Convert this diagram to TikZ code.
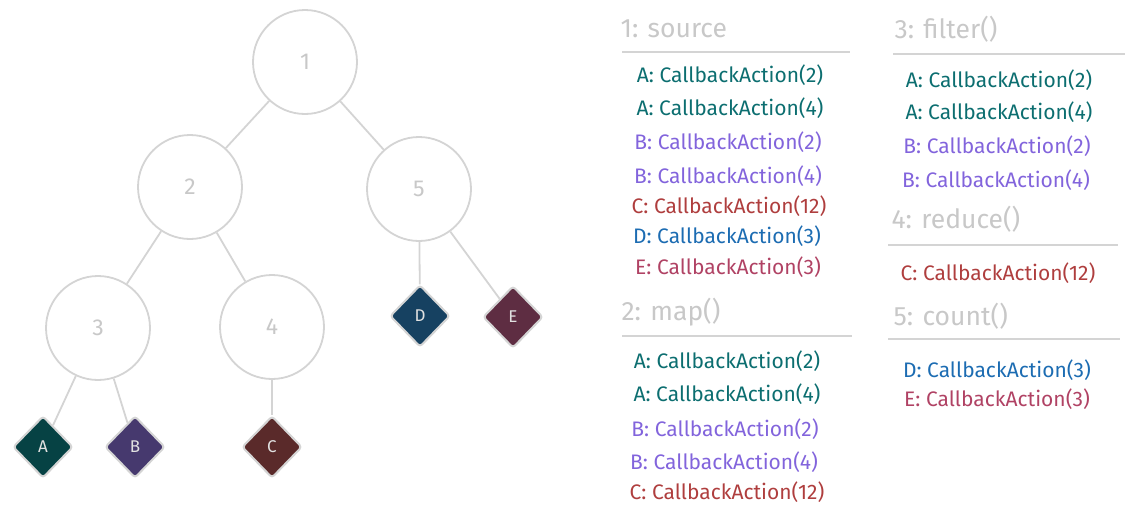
\documentclass[tikz,border=0pt]{standalone}
\usepackage{fontspec}
\setmainfont{Fira Sans}
\usepackage{tikz}
\usetikzlibrary{shapes.geometric}

\definecolor{edgegrey}{RGB}{212,212,212}
\definecolor{labelgrey}{RGB}{200,200,200}
\definecolor{leaftext}{RGB}{225,225,225}
\definecolor{fillA}{RGB}{6,66,68}
\definecolor{fillB}{RGB}{70,57,110}
\definecolor{fillC}{RGB}{90,42,42}
\definecolor{fillD}{RGB}{22,65,97}
\definecolor{fillE}{RGB}{94,45,66}
\definecolor{textA}{RGB}{12,110,112}
\definecolor{textB}{RGB}{130,100,220}
\definecolor{textC}{RGB}{175,62,62}
\definecolor{textD}{RGB}{28,108,178}
\definecolor{textE}{RGB}{176,66,100}

\begin{document}
\begin{tikzpicture}[x=1pt,y=-1pt,
	treenode/.style={circle, draw=edgegrey, fill=white, line width=1.8pt, minimum size=104pt, inner sep=0pt, text=labelgrey, font=\fontsize{23}{25}\selectfont},
	leaf/.style={diamond, draw=edgegrey, line width=2pt, rounded corners=3pt, minimum width=60pt, minimum height=62pt, inner sep=0pt, text=leaftext, font=\fontsize{17}{19}\selectfont},
	branch/.style={draw=edgegrey, line width=1.8pt},
	head/.style={anchor=west, text=labelgrey, font=\fontsize{26.5}{28}\selectfont},
	item/.style={font=\fontsize{21}{23}\selectfont},
	rule/.style={draw=edgegrey, line width=1.5pt}]
	\useasboundingbox (0,0) rectangle (1134,514);

	\node[treenode] (n1) at (305,62) {1};
	\node[treenode] (n2) at (190,187) {2}; \node[treenode] (n5) at (419,189) {5};
	\node[treenode] (n3) at (98,328) {3}; \node[treenode] (n4) at (272,327) {4};
	\node[leaf, fill=fillA] (la) at (43,447) {A}; \node[leaf, fill=fillB] (lb) at (135,447) {B};
	\node[leaf, fill=fillC] (lc) at (272,447) {C};
	\node[leaf, fill=fillD] (ld) at (420,316) {D}; \node[leaf, fill=fillE] (le) at (513,317) {E};

	\draw[branch] (n1) -- (n2); \draw[branch] (n1) -- (n5);
	\draw[branch] (n2) -- (n3); \draw[branch] (n2) -- (n4);
	\draw[branch] (n5) -- (ld); \draw[branch] (n5) -- (le);
	\draw[branch] (n3) -- (la); \draw[branch] (n3) -- (lb);
	\draw[branch] (n4) -- (lc);

	\node[head] (hsource) at (617,29) {1: source};
	\draw[rule] (622,52) -- (850,52);
	\node[item, text=textA] (s1) at (730,75) {A: CallbackAction(2)};
	\node[item, text=textA] (s2) at (730,108) {A: CallbackAction(4)};
	\node[item, text=textB] (s3) at (728,142) {B: CallbackAction(2)};
	\node[item, text=textB] (s4) at (728,176) {B: CallbackAction(4)};
	\node[item, text=textC] (s5) at (729,206) {C: CallbackAction(12)};
	\node[item, text=textD] (s6) at (727,236) {D: CallbackAction(3)};
	\node[item, text=textE] (s7) at (728,267) {E: CallbackAction(3)};

	\node[head] (hmap) at (618,312) {2: map()};
	\draw[rule] (622,336) -- (852,336);
	\node[item, text=textA] (m1) at (727,361) {A: CallbackAction(2)};
	\node[item, text=textA] (m2) at (727,394) {A: CallbackAction(4)};
	\node[item, text=textB] (m3) at (725,429) {B: CallbackAction(2)};
	\node[item, text=textB] (m4) at (724,462) {B: CallbackAction(4)};
	\node[item, text=textC] (m5) at (727,492) {C: CallbackAction(12)};

	\node[head] (hfilter) at (891,29) {3: filter()};
	\draw[rule] (893,54) -- (1125,54);
	\node[item, text=textA] (f1) at (999,80) {A: CallbackAction(2)};
	\node[item, text=textA] (f2) at (999,112) {A: CallbackAction(4)};
	\node[item, text=textB] (f3) at (997,146) {B: CallbackAction(2)};
	\node[item, text=textB] (f4) at (996,180) {B: CallbackAction(4)};

	\node[head] (hreduce) at (888,219) {4: reduce()};
	\draw[rule] (888,245) -- (1118,245);
	\node[item, text=textC] (r1) at (998,273) {C: CallbackAction(12)};

	\node[head] (hcount) at (890,316) {5: count()};
	\draw[rule] (888,339) -- (1120,339);
	\node[item, text=textD] (c1) at (997,370) {D: CallbackAction(3)};
	\node[item, text=textE] (c2) at (997,399) {E: CallbackAction(3)};
\end{tikzpicture}
\end{document}
